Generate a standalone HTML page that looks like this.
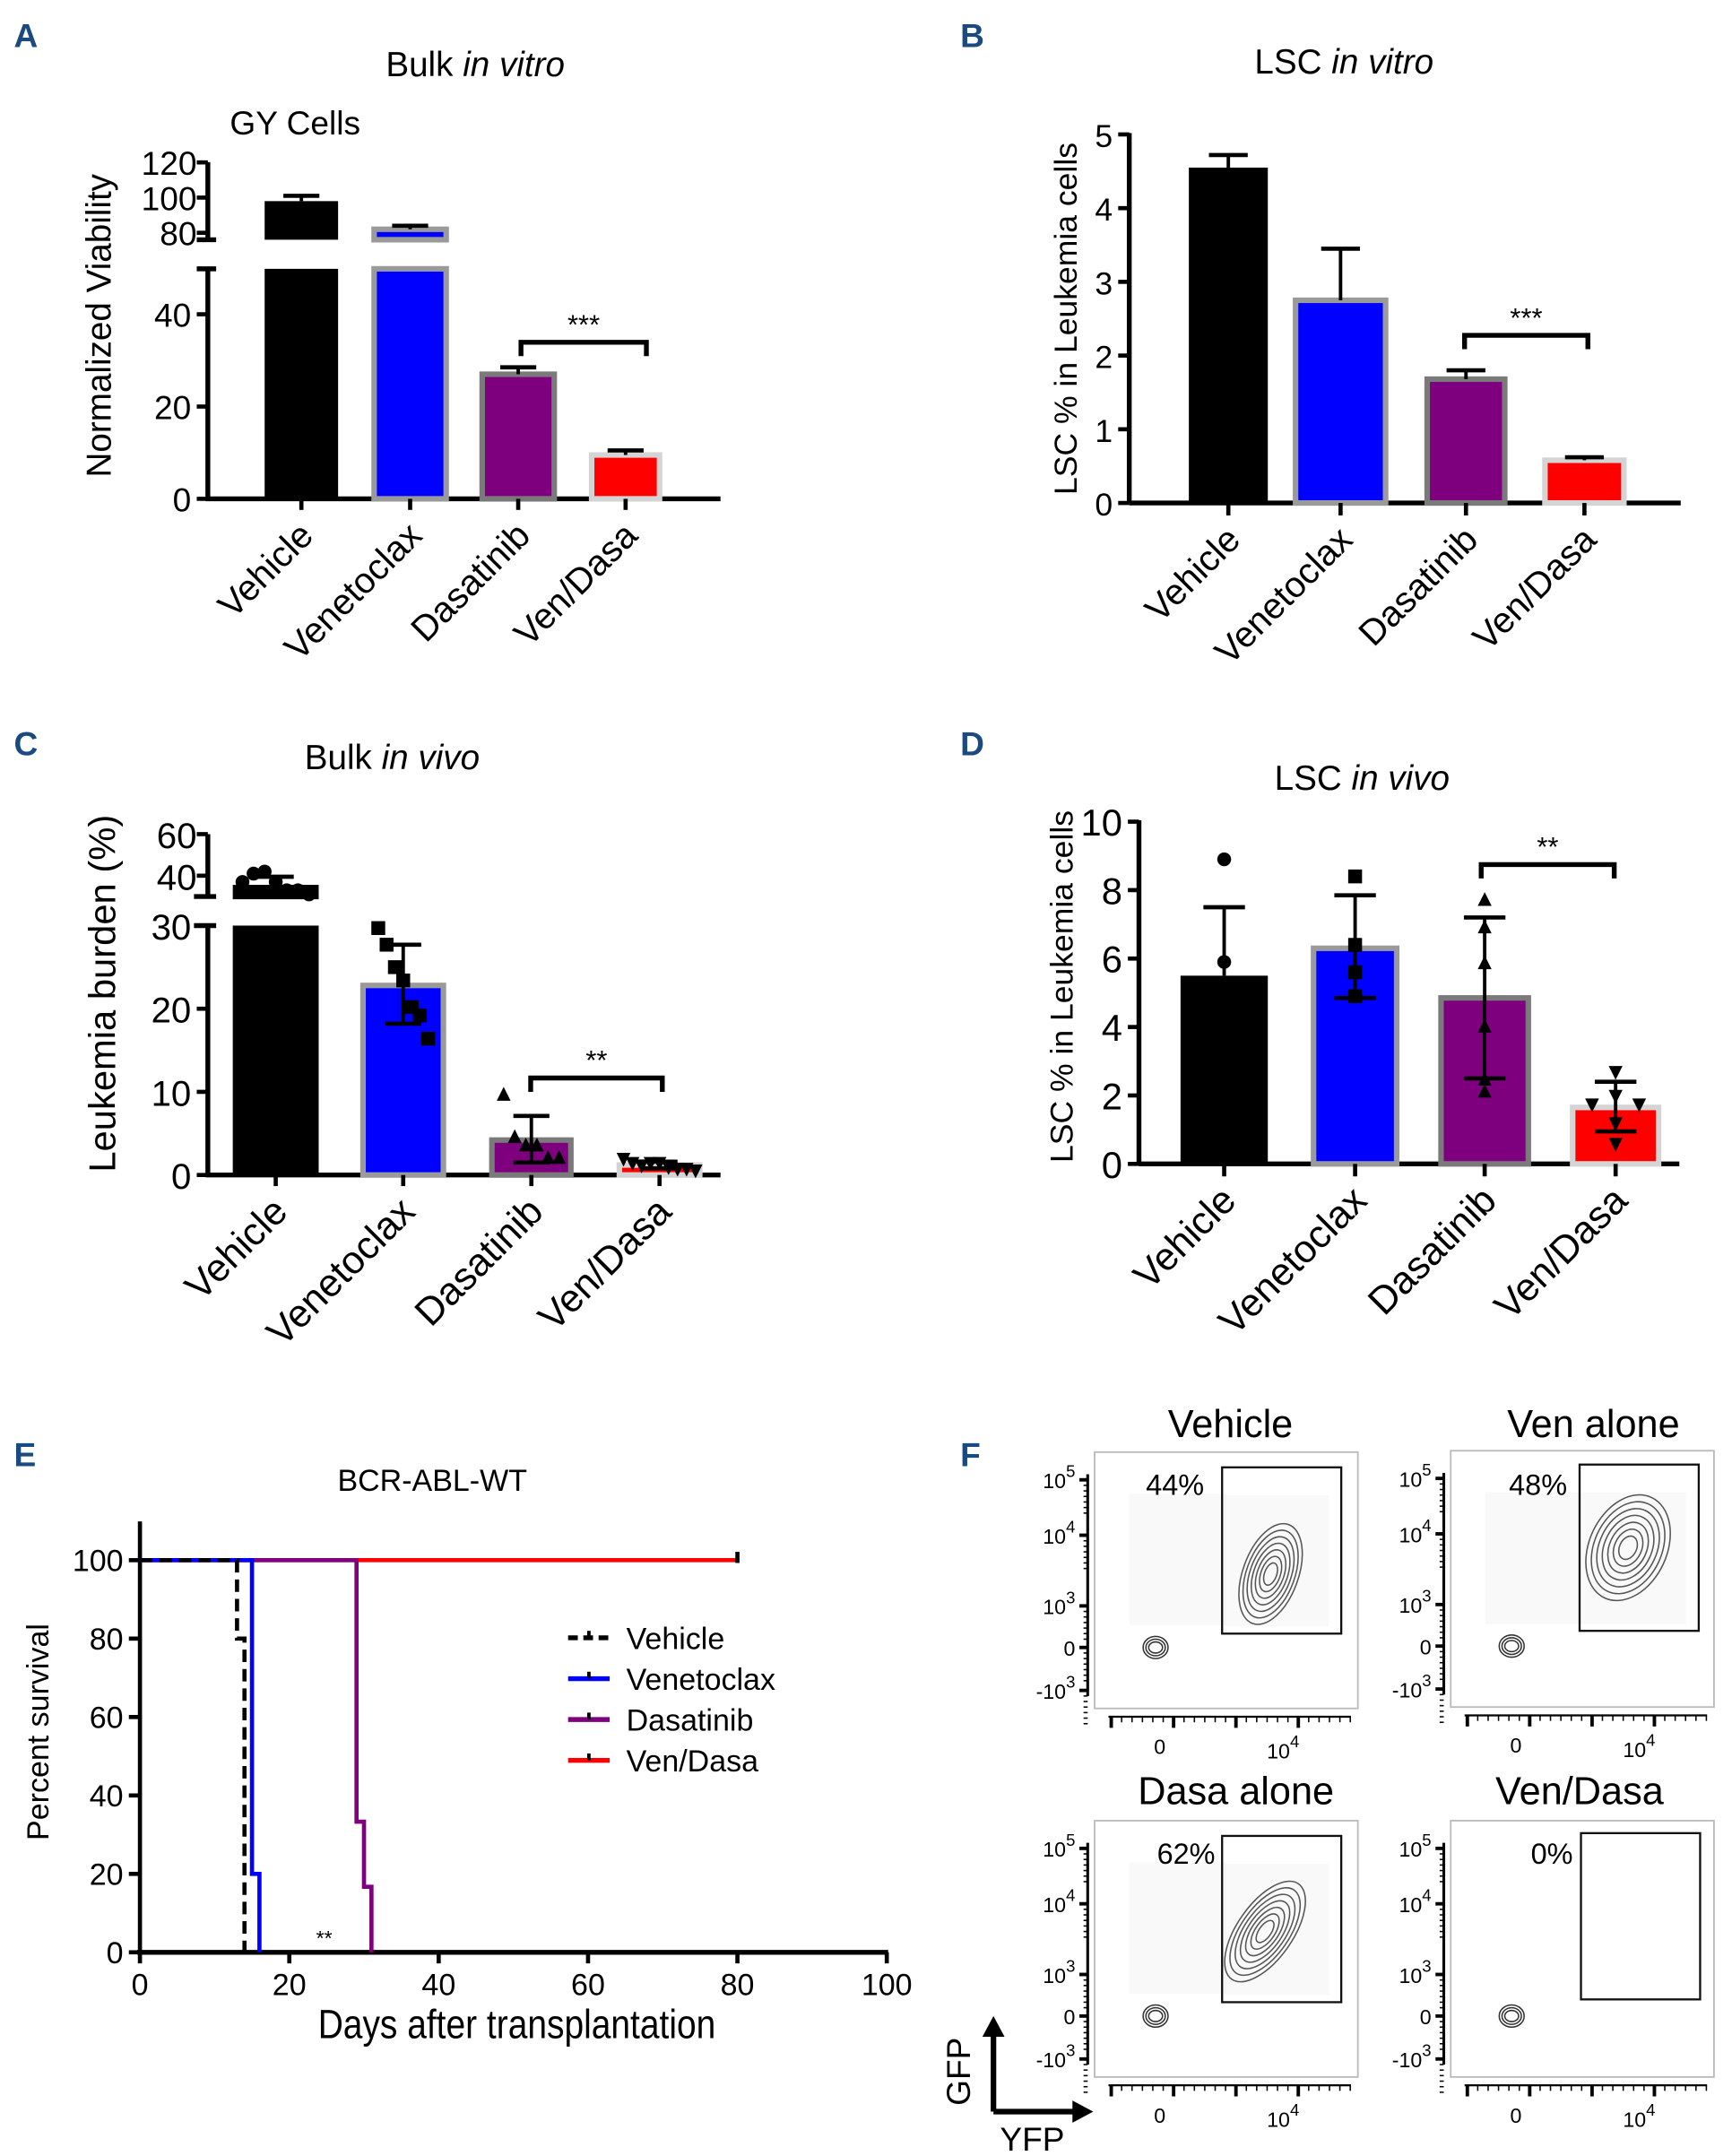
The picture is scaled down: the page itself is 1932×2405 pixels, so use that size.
<!DOCTYPE html>
<html><head><meta charset="utf-8"><style>
html,body{margin:0;padding:0;background:#fff;}
svg{display:block;font-family:"Liberation Sans",sans-serif;}
</style></head><body>
<svg id="fig" width="1932" height="2405" viewBox="0 0 1250 1556" xmlns="http://www.w3.org/2000/svg">
</svg>
<script>
// ---------- DATA ----------
const categories = ["Vehicle","Venetoclax","Dasatinib","Ven/Dasa"];
const colorsFill = ["#000000","#0000ff","#7f007f","#ff0000"];
const colorsEdge = ["#000000","#9a9a9a","#7a7a7a","#d4d4d4"];
// Panel A
const aMeans = [98, 82, 27, 9.5];
const aErr   = [101, 84, 28.5, 10.5];
const aTicksLow = [0, 20, 40];
const aTicksHigh = [80, 100, 120];
// Panel B
const bMeans = [4.55, 2.75, 1.68, 0.58];
const bErr   = [4.72, 3.45, 1.8, 0.62];
const bTicks = [0,1,2,3,4,5];
// Panel C
const cMeans = [35.6, 22.8, 4.2, 1.2];
const cErrHi = [39.5, 27.7, 7.1, 1.6];
const cErrLo = [33.0, 18.2, 1.5, 0.8];
const cPtsVehicle = [37, 41, 42, 37, 33, 33, 31];
const cPtsVen = [29.7, 27.7, 25, 23.4, 20.2, 19.2, 16.4];
const cPtsDasa = [9.6, 4.5, 3.5, 3.5, 2.0, 2.0];
const cPtsCombo = [2.0, 1.5, 1.2, 1.5, 1.5, 1.0, 0.8, 0.8, 0.6];
const cTicksLow = [0, 10, 20, 30];
const cTicksHigh = [40, 60];
// Panel D
const dMeans = [5.5, 6.3, 4.85, 1.65];
const dErrHi = [7.5, 7.85, 7.2, 2.4];
const dErrLo = [5.5, 4.85, 2.5, 0.95];
const dPtsVehicle = [8.9, 5.9, 1.7];
const dPtsVen = [8.4, 6.4, 5.6, 4.9];
const dPtsDasa = [7.7, 6.9, 5.85, 4.0, 2.45, 2.1];
const dPtsCombo = [2.7, 2.0, 1.75, 1.75, 1.2, 0.6];
const dTicks = [0,2,4,6,8,10];
// Panel E survival
const eVehicleT = [0, 13, 14];   const eVehicleS = [100, 80, 0];
const eVenT = [0, 15, 16];       const eVenS = [100, 20, 0];
const eDasaT = [0, 29, 30, 31];  const eDasaS = [100, 33.3, 16.7, 0];
const eComboT = [0, 80];         const eComboS = [100, 100];
const eXTicks = [0,20,40,60,80,100];
const eYTicks = [0,20,40,60,80,100];
// Panel F
const fTitles = ["Vehicle","Ven alone","Dasa alone","Ven/Dasa"];
const fPercents = ["44%","48%","62%","0%"];

const NS="http://www.w3.org/2000/svg";
const svg=document.getElementById('fig');
function el(tag, attrs, parent, text){
  const e=document.createElementNS(NS,tag);
  for(const k in attrs) e.setAttribute(k, attrs[k]);
  if(text!==undefined) e.textContent=text;
  (parent||svg).appendChild(e); return e;
}
function grp(name){const g=el('g',{},svg);
  
  
  return g;}
function txt(g,x,y,s,size,opts){
  opts=opts||{};
  const t=el('text',{x:x,y:y,'font-size':size,'text-anchor':opts.anchor||'start',fill:opts.fill||'#000'},g,s);
  if(opts.weight) t.setAttribute('font-weight',opts.weight);
  if(opts.rot!==undefined) t.setAttribute('transform','rotate('+opts.rot+' '+x+' '+y+')');
  if(opts.style) t.setAttribute('font-style',opts.style);
  
  
  return t;
}
function line(g,x1,y1,x2,y2,w,c,dash){
  const l=el('line',{x1:x1,y1:y1,x2:x2,y2:y2,stroke:c||'#000','stroke-width':w||3},g);
  if(dash) l.setAttribute('stroke-dasharray',dash);
  return l;
}
function titleMixed(g,x,y,a,b,size,name){
  const t=el('text',{x:x,y:y,'font-size':size,'text-anchor':'middle'},g);
  
  
  el('tspan',{},t,a+' ');
  el('tspan',{'font-style':'italic'},t,b);
}
function panelLetter(x,y,s){
  const g=grp('panel-letter-'+s.toLowerCase());
  txt(g,x,y,s,24,{weight:'bold',fill:'#1a4a80',name:'panel-letter'});
}
function catLabels(g,xs,axisY,size){
  xs.forEach((x,i)=>{
    txt(g,x+10,axisY+28,categories[i],size,{anchor:'end',rot:-45,name:'category-label'});
  });
}
function bar(g,x0,x1,yTop,yBot,i){
  const r=el('rect',{x:x0,y:yTop,width:x1-x0,height:Math.max(0,yBot-yTop),fill:colorsFill[i],stroke:colorsEdge[i],'stroke-width':i===0?0:4},g);
  
  
  return r;
}
function errBar(g,xc,yFrom,yTo,half){
  line(g,xc,yFrom,xc,yTo,2.5);line(g,xc-half,yTo,xc+half,yTo,3);
}
function marker(g,type,x,y,s){
  let m;
  if(type==='circle') m=el('circle',{cx:x,cy:y,r:s},g);
  else if(type==='square') m=el('rect',{x:x-s,y:y-s,width:2*s,height:2*s},g);
  else if(type==='tri') m=el('polygon',{points:`${x},${y-s*1.2} ${x-s},${y+s*0.8} ${x+s},${y+s*0.8}`},g);
  else m=el('polygon',{points:`${x},${y+s*1.2} ${x-s},${y-s*0.8} ${x+s},${y-s*0.8}`},g);
  m.setAttribute('fill','#000');
  
  
}
function bracket(g,x1,x2,y,stars){
  el('path',{d:`M${x1},${y+10} L${x1},${y} L${x2},${y} L${x2},${y+10}`,fill:'none',stroke:'#000','stroke-width':3.5},g);
  txt(g,(x1+x2)/2,y-6,stars,20,{anchor:'middle',name:'significance-stars'});
}

// ---------- Panel A ----------
(function(){
  const g=grp('panel-a-bulk-in-vitro');
  panelLetter(10,34,'A');
  titleMixed(g,343,55,'Bulk','in vitro',25,'chart-title');
  txt(g,213,97,'GY Cells',24,{anchor:'middle',name:'subtitle'});
  const ax=150, y0=360;
  const yLow=v=>y0-3.33*v;
  const yHigh=v=>168-(v-80)*1.27;
  const lowTop=194, highBot=173, highTop=117;
  line(g,ax,y0+1.5,ax,lowTop,3.5);line(g,ax,highBot,ax,highTop,3.5);
  line(g,ax-8,lowTop,ax+6,lowTop,3.5);line(g,ax-8,highBot,ax+6,highBot,3.5);
  line(g,ax-1.5,y0,520,y0,3.5);
  aTicksLow.forEach(v=>{line(g,ax-8,yLow(v),ax,yLow(v),3);txt(g,ax-12,yLow(v)+9,String(v),24,{anchor:'end',name:'y-tick-label'});});
  aTicksHigh.forEach(v=>{line(g,ax-8,yHigh(v),ax,yHigh(v),3);txt(g,ax-8,yHigh(v)+9,String(v),24,{anchor:'end',name:'y-tick-label'});});
  txt(g,80,235,'Normalized Viability',25,{anchor:'middle',rot:-90,name:'y-axis-title'});
  const xs=[[191,244],[270,322],[348,400],[427,476]];
  const centers=xs.map(p=>(p[0]+p[1])/2);
  aMeans.forEach((m,i)=>{
    if(m>50){
      bar(g,xs[i][0],xs[i][1],lowTop,y0,i);
      bar(g,xs[i][0],xs[i][1],yHigh(m),highBot,i);
      errBar(g,centers[i],yHigh(m),yHigh(aErr[i]),13);
    } else {
      bar(g,xs[i][0],xs[i][1],yLow(m),y0,i);
      errBar(g,centers[i],yLow(m),yLow(aErr[i]),13);
    }
    line(g,centers[i],y0,centers[i],y0+8,3);
  });
  bracket(g,centers[2]+2,centers[3]+15,247,'***');
  catLabels(g,centers,y0,26);
})();

// ---------- Panel B ----------
(function(){
  const g=grp('panel-b-lsc-in-vitro');
  panelLetter(693,34,'B');
  titleMixed(g,970,53,'LSC','in vitro',25,'chart-title');
  const ax=815,y0=363,sc=53.2;
  const y=v=>y0-sc*v;
  line(g,ax,y0,ax,y(5)-1,3.5);line(g,ax,y0,1213,y0,3.5);
  bTicks.forEach(v=>{line(g,ax-8,y(v),ax,y(v),3);txt(g,ax-12,y(v)+9,String(v),23,{anchor:'end',name:'y-tick-label'});});
  txt(g,777,230,'LSC % in Leukemia cells',23,{anchor:'middle',rot:-90,name:'y-axis-title'});
  const xs=[[858,915],[935,1000],[1030,1086],[1115,1172]];
  const centers=xs.map(p=>(p[0]+p[1])/2);
  bMeans.forEach((m,i)=>{
    bar(g,xs[i][0],xs[i][1],y(m),y0,i);
    errBar(g,centers[i],y(m),y(bErr[i]),14);
    line(g,centers[i],y0,centers[i],y0+9,3);
  });
  bracket(g,1057,1146,242,'***');
  catLabels(g,centers,y0,26);
})();

// ---------- Panel C ----------
(function(){
  const g=grp('panel-c-bulk-in-vivo');
  panelLetter(10,545,'C');
  titleMixed(g,283,555,'Bulk','in vivo',25,'chart-title');
  const ax=150,y0=848;
  const yLow=v=>y0-6*v;
  const yHigh=v=>632-(v-40)*1.5;
  const lowTop=668, highBot=647, highTop=602;
  line(g,ax,y0+1.5,ax,lowTop,3.5);line(g,ax,highBot,ax,highTop,3.5);
  line(g,ax-10,lowTop,ax+6,lowTop,3.5);line(g,ax-10,highBot,ax+6,highBot,3.5);
  line(g,ax-1.5,y0,520,y0,3.5);
  cTicksLow.forEach(v=>{line(g,ax-8,yLow(v),ax,yLow(v),3);txt(g,ax-12,yLow(v)+10,String(v),26,{anchor:'end',name:'y-tick-label'});});
  cTicksHigh.forEach(v=>{line(g,ax-8,yHigh(v),ax,yHigh(v),3);txt(g,ax-8,yHigh(v)+10,String(v),26,{anchor:'end',name:'y-tick-label'});});
  txt(g,83,717,'Leukemia burden (%)',27,{anchor:'middle',rot:-90,name:'y-axis-title'});
  const xs=[[168,230],[262,320],[355,412],[447,505]];
  const centers=xs.map(p=>(p[0]+p[1])/2);
  const yv=v=>v>30?yHigh(v):yLow(v);
  cMeans.forEach((m,i)=>{
    if(m>30){bar(g,xs[i][0],xs[i][1],lowTop,y0,i);
      el('rect',{x:xs[i][0],y:yHigh(m),width:xs[i][1]-xs[i][0],height:highBot-yHigh(m)+2,fill:'#000'},g);}
    else bar(g,xs[i][0],xs[i][1],yLow(m),y0,i);
    line(g,centers[i],y0,centers[i],y0+8,3);
  });
  const sets=[[cPtsVehicle,'circle'],[cPtsVen,'square'],[cPtsDasa,'tri'],[cPtsCombo,'down']];
  sets.forEach((s,i)=>{
    const n=s[0].length;
    s[0].forEach((v,j)=>{
      const off=n>1?(j-(n-1)/2)*(i===1?6:(i===3?6.5:8)):0;
      marker(g,s[1],centers[i]+off,yv(v),5);
    });
    line(g,centers[i],yv(cErrLo[i]),centers[i],yv(cErrHi[i]),2.5);
    line(g,centers[i]-13,yv(cErrHi[i]),centers[i]+13,yv(cErrHi[i]),3);
    line(g,centers[i]-13,yv(cErrLo[i]),centers[i]+13,yv(cErrLo[i]),3);
  });
  bracket(g,383,478,778,'**');
  catLabels(g,centers,y0,28);
})();

// ---------- Panel D ----------
(function(){
  const g=grp('panel-d-lsc-in-vivo');
  panelLetter(693,545,'D');
  titleMixed(g,983,570,'LSC','in vivo',25,'chart-title');
  const ax=822,y0=840,sc=24.7;
  const y=v=>y0-sc*v;
  line(g,ax,y0,ax,y(10)-1,3.5);line(g,ax,y0,1212,y0,3.5);
  dTicks.forEach(v=>{line(g,ax-8,y(v),ax,y(v),3);txt(g,ax-12,y(v)+10,String(v),27,{anchor:'end',name:'y-tick-label'});});
  txt(g,774,712,'LSC % in Leukemia cells',23,{anchor:'middle',rot:-90,name:'y-axis-title'});
  const xs=[[852,915],[948,1008],[1040,1103],[1135,1197]];
  const centers=xs.map(p=>(p[0]+p[1])/2);
  dMeans.forEach((m,i)=>{
    bar(g,xs[i][0],xs[i][1],y(m),y0,i);
    line(g,centers[i],y0,centers[i],y0+9,3);
  });
  const sets=[[dPtsVehicle,'circle'],[dPtsVen,'square'],[dPtsDasa,'tri'],[dPtsCombo,'down']];
  const offs=[[0,0,0],[0,0,0,0],[0,0,0,0,0,0],[0,0,-17,17,0,0]];
  sets.forEach((s,i)=>{
    s[0].forEach((v,j)=>marker(g,s[1],centers[i]+offs[i][j],y(v),5));
    line(g,centers[i],y(dErrLo[i]),centers[i],y(dErrHi[i]),2.5);
    line(g,centers[i]-15,y(dErrHi[i]),centers[i]+15,y(dErrHi[i]),3);
    if(i>0) line(g,centers[i]-15,y(dErrLo[i]),centers[i]+15,y(dErrLo[i]),3);
  });
  bracket(g,1069,1165,624,'**');
  catLabels(g,centers,y0,28);
})();

// ---------- Panel E ----------
(function(){
  const g=grp('panel-e-survival');
  panelLetter(10,1058,'E');
  txt(g,312,1076,'BCR-ABL-WT',22,{anchor:'middle',name:'chart-title'});
  const x=v=>101+5.39*v, y=v=>1409-2.83*v;
  line(g,101,1410,101,1098,3);line(g,99,1409,641,1409,3.5);
  eXTicks.forEach(v=>{line(g,x(v),1409,x(v),1417,3);txt(g,x(v),1440,String(v),22,{anchor:'middle',name:'x-tick-label'});});
  eYTicks.forEach(v=>{line(g,93,y(v),101,y(v),3);txt(g,89,y(v)+8,String(v),22,{anchor:'end',name:'y-tick-label'});});
  txt(g,373,1471,'Days after transplantation',28,{anchor:'middle',name:'x-axis-title'}).setAttribute('transform','translate(373 1471) scale(0.9 1.05) translate(-373 -1471)');
  txt(g,35,1250,'Percent survival',22,{anchor:'middle',rot:-90,name:'y-axis-title'});
  function step(T,S,color,name,dash){
    let d=`M${x(T[0])},${y(S[0])}`;
    for(let i=1;i<T.length;i++){d+=` L${x(T[i])},${y(S[i-1])} L${x(T[i])},${y(S[i])}`;}
    const p=el('path',{d:d,fill:'none',stroke:color,'stroke-width':3},g);
    if(dash) p.setAttribute('stroke-dasharray',dash);
    
    
  }
  step(eComboT,eComboS,'#ff0000','line-ven-dasa');
  step(eDasaT,eDasaS,'#7f007f','line-dasatinib');
  step(eVenT,eVenS,'#0000ff','line-venetoclax');
  step(eVehicleT,eVehicleS,'#000','line-vehicle','9,5');
  line(g,x(80),y(100)+2,x(80),y(100)-6,3);
  txt(g,234,1404,'**',15,{anchor:'middle',name:'significance-stars'});
  const leg=[['Vehicle','#000','7,4'],['Venetoclax','#0000ff'],['Dasatinib','#7f007f'],['Ven/Dasa','#ff0000']];
  leg.forEach((l,i)=>{
    const yy=1182+i*29.5;
    const lg=el('g',{},g);
    
    
    line(lg,410,yy,440,yy,3.5,l[1],l[2]);
    line(lg,425,yy,425,yy-5,2.5);
    txt(lg,452,yy+8,l[0],22,{name:'legend-label'});
  });
})();

// ---------- Panel F ----------
(function(){
  const g=grp('panel-f-flow');
  panelLetter(693,1058,'F');
  const frames=[[790,1048],[1047,1047],[790,1314],[1047,1314]];
  const gates=[[882,1059],[1140,1057],[882,1325],[1141,1323]];
  const titlesPos=[[888,1037],[1150,1037],[892,1302],[1140,1302]];
  const pctPos=[[848,1079],[1110,1079],[856,1345],[1120,1345]];
  const W=190,H=185;
  frames.forEach((f,i)=>{
    const p=el('g',{},g);
    
    
    txt(p,titlesPos[i][0],titlesPos[i][1],fTitles[i],28,{anchor:'middle',name:'flow-title'});
    el('rect',{x:f[0],y:f[1],width:W,height:H,fill:'none',stroke:'#bbb','stroke-width':1.2},p);
    if(i<3){
      el('rect',{x:f[0]+25,y:f[1]+30,width:70,height:95,fill:'#000','fill-opacity':0.025},p);
      el('rect',{x:gates[i][0]+2,y:gates[i][1]+20,width:75,height:95,fill:'#000','fill-opacity':0.025},p);
    }
    el('rect',{x:gates[i][0],y:gates[i][1],width:86,height:120,fill:'none',stroke:'#111','stroke-width':1.5},p);
    txt(p,pctPos[i][0],pctPos[i][1],fPercents[i],21,{anchor:'middle',name:'gate-percent'});
    const ax=f[0]-5;
    line(p,ax,f[1]+16,ax,f[1]+176,2);
    const ylab=[['10','5',20],['10','4',60],['10','3',111],['0','',141],['-10','3',172]];
    ylab.forEach(t=>{
      const yy=f[1]+t[2];
      line(p,ax-6,yy,ax,yy,2.5);
      for(let k=1;k<7;k++) line(p,ax-3,yy+k*4,ax,yy+k*4,1);
      const tt=el('text',{x:ax-9,y:yy+6,'font-size':15,'text-anchor':'end'},p);
      
      
      el('tspan',{},tt,t[0]);
      if(t[1]) el('tspan',{dy:-8,'font-size':12},tt,t[1]);
    });
    const by=f[1]+H+6;
    line(p,f[0]+10,by,f[0]+185,by,1.5);
    for(let k=0;k<24;k++){const xx=f[0]+12+k*7.5;line(p,xx,by,xx,by+(k%6===0?8:4),k%6===0?2.5:1);}
    const x0=f[0]+47,x4=f[0]+136;
    txt(p,x0,by+27,'0',15,{anchor:'middle',name:'x-tick-label'});
    const xt=el('text',{x:x4,y:by+30,'font-size':15,'text-anchor':'middle'},p);
    
    
    el('tspan',{},xt,'10');el('tspan',{dy:-8,'font-size':12},xt,'4');
    const bx=f[0]+44, byy=f[1]+141;
    [8,6,4].forEach(r=>el('ellipse',{cx:bx,cy:byy,rx:r+1,ry:r,fill:'none',stroke:'#333','stroke-width':1},p));
    if(i<3){
      const c=[[f[0]+127,f[1]+88,20,38,20],[f[0]+128,f[1]+70,28,40,25],[f[0]+123,f[1]+80,20,42,35]][i];
      for(let k=0;k<7;k++){
        const s=1-k*0.13;
        el('ellipse',{cx:c[0],cy:c[1],rx:c[2]*s,ry:c[3]*s,fill:'none',stroke:'#555','stroke-width':1,transform:`rotate(${c[4]} ${c[0]} ${c[1]})`},p);
      }
    }
  });
  const a=el('g',{},g);
  
  
  el('path',{d:'M717,1524 L717,1466 M717,1524 L777,1524',stroke:'#000','stroke-width':4,fill:'none'},a);
  el('polygon',{points:'717,1455 709,1470 725,1470'},a);
  el('polygon',{points:'789,1524 774,1516 774,1532'},a);
  txt(a,700,1495,'GFP',24,{anchor:'middle',rot:-90,name:'gfp-label'});
  txt(a,745,1552,'YFP',24,{anchor:'middle',name:'yfp-label'});
})();
</script>
</body></html>
